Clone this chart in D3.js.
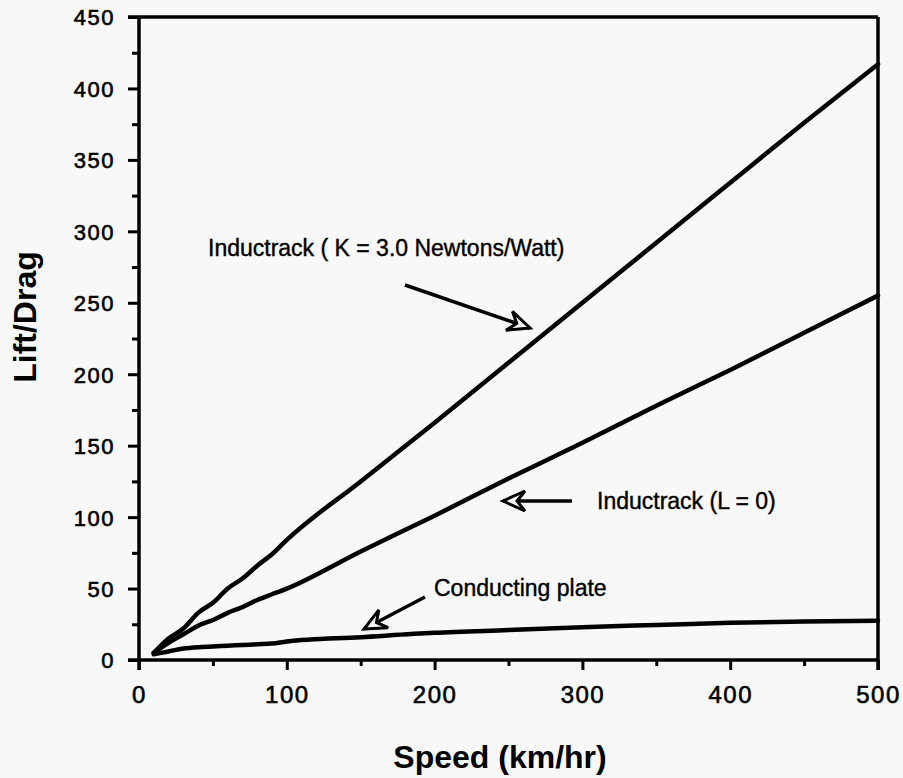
<!DOCTYPE html>
<html>
<head>
<meta charset="utf-8">
<script src="https://cdn.jsdelivr.net/npm/d3@7"></script>
<style>
  body { margin: 0; background: #f7f8f7; }
  svg { display: block; font-family: "Liberation Sans", Arial, Helvetica, sans-serif; }
</style>
</head>
<body>
<svg width="903" height="778"></svg>
<script>
// values
var speed   = [10, 20, 30, 40, 50, 60, 70, 80, 90, 100, 150, 200, 250, 300, 350, 400, 450, 500];
var kCurve  = [5, 15, 22, 33, 40, 50, 57, 66, 74, 84, 125, 166, 208, 250, 292, 334, 376, 417];
var l0Curve = [5, 12, 18, 24, 28, 33, 37, 42, 46, 50, 76, 101, 127, 152, 178, 203, 229, 255];
var plate   = [4, 6, 8, 9, 9.5, 10, 10.5, 11, 11.5, 13, 16, 19, 21, 23, 24.5, 26, 27, 27.5];

var xMajor = [0, 100, 200, 300, 400, 500];
var xMinor = [50, 150, 250, 350, 450];
var yMajor = [0, 50, 100, 150, 200, 250, 300, 350, 400, 450];
var yMinor = [25, 75, 125, 175, 225, 275, 325, 375, 425];

var notes = [
  { text: "Inductrack ( K = 3.0 Newtons/Watt)", tx: 208, ty: 256, from: [405, 285], to: [530, 328] },
  { text: "Inductrack (L = 0)", tx: 597, ty: 509, from: [572, 501], to: [503, 501] },
  { text: "Conducting plate", tx: 434, ty: 596, from: [425, 597], to: [364, 629] }
];

var svg = d3.select("svg");
var bg = "#f7f8f7";

var x = d3.scaleLinear().domain([0, 500]).range([139, 878]);
var y = d3.scaleLinear().domain([0, 450]).range([660, 17]);

// axes
var gx = svg.append("g").attr("transform", "translate(0,660)")
  .call(d3.axisBottom(x).tickValues(xMajor).tickSize(10).tickFormat(d3.format("d")));
svg.append("g").attr("transform", "translate(0,660)")
  .call(d3.axisBottom(x).tickValues(xMinor).tickSize(6).tickFormat(""));
var gy = svg.append("g").attr("transform", "translate(139,0)")
  .call(d3.axisLeft(y).tickValues(yMajor).tickSize(11).tickFormat(d3.format("d")));
svg.append("g").attr("transform", "translate(139,0)")
  .call(d3.axisLeft(y).tickValues(yMinor).tickSize(7).tickFormat(""));

svg.selectAll(".domain").remove();
svg.selectAll(".tick line").attr("stroke", "#000").attr("stroke-width", 3);

gx.selectAll(".tick text")
  .attr("y", 0).attr("dy", 0)
  .attr("transform", "translate(0,43)")
  .attr("font-size", 24).attr("letter-spacing", 1.5)
  .attr("fill", "#000").attr("font-family", null)
  .attr("stroke", "#000").attr("stroke-width", 0.6);
gy.selectAll(".tick text")
  .attr("x", -24).attr("dy", "0.36em")
  .attr("font-size", 22).attr("letter-spacing", 1.5)
  .attr("fill", "#000").attr("font-family", null)
  .attr("stroke", "#000").attr("stroke-width", 0.6);

// frame
var frame = svg.append("g").attr("stroke", "#000").attr("stroke-width", 3.5).attr("fill", "none");
frame.append("line").attr("x1", 128).attr("x2", x(500)).attr("y1", y(450)).attr("y2", y(450));
frame.append("line").attr("x1", 128).attr("x2", x(500)).attr("y1", y(0)).attr("y2", y(0));
frame.append("line").attr("x1", x(0)).attr("x2", x(0)).attr("y1", y(450)).attr("y2", 670);
frame.append("line").attr("x1", x(500)).attr("x2", x(500)).attr("y1", y(450)).attr("y2", 670);

// curves
var line = d3.line().x(function(d) { return x(d[0]); }).y(function(d) { return y(d[1]); })
  .curve(d3.curveMonotoneX);

[kCurve, l0Curve, plate].forEach(function(vals) {
  svg.append("path")
    .datum(speed.map(function(s, i) { return [s, vals[i]]; }))
    .attr("d", line)
    .attr("fill", "none").attr("stroke", "#000")
    .attr("stroke-width", 4.5).attr("stroke-linejoin", "round").attr("stroke-linecap", "round");
});

// annotations with open arrowheads
notes.forEach(function(n) {
  var ang = Math.atan2(n.to[1] - n.from[1], n.to[0] - n.from[0]) * 180 / Math.PI;
  svg.append("line")
    .attr("x1", n.from[0]).attr("y1", n.from[1]).attr("x2", n.to[0]).attr("y2", n.to[1])
    .attr("stroke", "#000").attr("stroke-width", 3.5);
  svg.append("path")
    .attr("d", "M0,0 L-22,-10 L-14,0 L-22,10 Z")
    .attr("transform", "translate(" + n.to[0] + "," + n.to[1] + ") rotate(" + ang + ")")
    .attr("fill", bg).attr("stroke", "#000").attr("stroke-width", 3).attr("stroke-linejoin", "miter");
  svg.append("text")
    .attr("x", n.tx).attr("y", n.ty)
    .attr("font-size", 23).attr("fill", "#000")
    .attr("stroke", "#000").attr("stroke-width", 0.4)
    .text(n.text);
});

// axis titles
svg.append("text")
  .attr("x", 500).attr("y", 768)
  .attr("text-anchor", "middle").attr("font-size", 32).attr("font-weight", "bold")
  .text("Speed (km/hr)");
svg.append("text")
  .attr("transform", "translate(36,317) rotate(-90)")
  .attr("text-anchor", "middle").attr("font-size", 32).attr("font-weight", "bold")
  .text("Lift/Drag");
</script>
</body>
</html>
